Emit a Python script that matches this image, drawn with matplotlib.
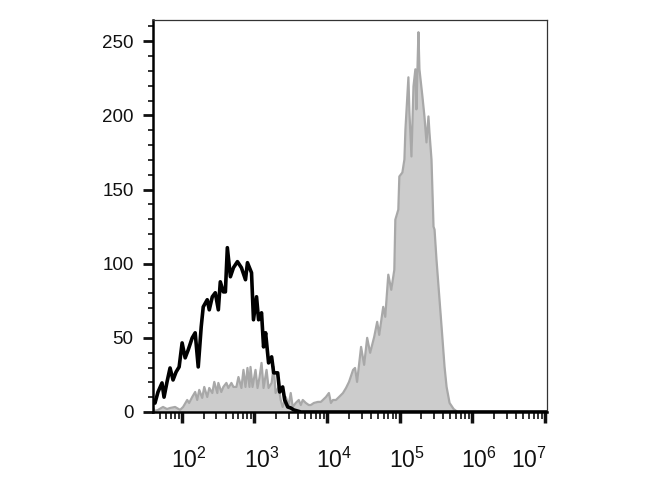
import numpy as np
import matplotlib
matplotlib.use("Agg")
from matplotlib import pyplot as plt
from matplotlib import ticker
from matplotlib.transforms import ScaledTranslation

plt.rcParams['font.family'] = ['Liberation Sans', 'DejaVu Sans']
plt.rcParams['mathtext.fontset'] = 'custom'
plt.rcParams['mathtext.rm'] = 'Liberation Sans'
plt.rcParams['mathtext.it'] = 'Liberation Sans:italic'

# isotype control (black line), x in decades (log10 of intensity)
black_log = [1.603, 1.63, 1.672, 1.727, 1.755, 1.796, 1.838, 1.879, 1.921, 1.963,
             2.004, 2.046, 2.088, 2.143, 2.184, 2.226, 2.267, 2.295, 2.35, 2.378,
             2.42, 2.461, 2.503, 2.53, 2.572, 2.6, 2.627, 2.669, 2.711, 2.766,
             2.821, 2.877, 2.904, 2.96, 2.987, 3.029, 3.057, 3.098, 3.126, 3.154,
             3.195, 3.237, 3.265, 3.32, 3.348, 3.389, 3.417, 3.459, 3.501, 3.542,
             3.64, 7.03]
black_count = [8, 6, 13.5, 19.6, 10, 20.3, 29.7, 21.6, 27, 30.4,
               46.6, 36.5, 41.9, 50, 53.4, 30.4, 57.4, 70.9, 75.7, 68.9,
               77.7, 80.4, 68.9, 87.8, 81, 81, 110.8, 91.2, 97.3, 101.4,
               97.3, 89.2, 100.7, 93.9, 62.2, 77.7, 62.2, 66.9, 43.9, 53.4,
               33.1, 37.2, 26.4, 26.4, 13.5, 16.9, 8.1, 3.4, 2.7, 1.4,
               0, 0]

# stained sample (grey filled histogram)
gray_log = [1.603, 1.63, 1.672, 1.741, 1.796, 1.838, 1.907, 1.976, 2.018, 2.074,
            2.101, 2.143, 2.184, 2.212, 2.24, 2.281, 2.309, 2.35, 2.378, 2.42,
            2.447, 2.489, 2.503, 2.544, 2.572, 2.614, 2.641, 2.683, 2.711, 2.752,
            2.78, 2.821, 2.849, 2.877, 2.904, 2.932, 2.946, 2.974, 3.015, 3.043,
            3.071, 3.098, 3.126, 3.167, 3.195, 3.237, 3.265, 3.292, 3.334, 3.362,
            3.389, 3.431, 3.472, 3.5, 3.528, 3.569, 3.611, 3.639, 3.666, 3.708,
            3.749, 3.777, 3.819, 3.874, 3.915, 3.943, 3.985, 4.026, 4.054, 4.082,
            4.123, 4.165, 4.22, 4.262, 4.303, 4.359, 4.386, 4.414, 4.469, 4.511,
            4.553, 4.594, 4.65, 4.691, 4.719, 4.774, 4.802, 4.844, 4.885, 4.927,
            4.941, 4.982, 4.996, 5.038, 5.066, 5.08, 5.121, 5.135, 5.163, 5.191,
            5.217, 5.231, 5.259, 5.273, 5.314, 5.342, 5.37, 5.397, 5.411, 5.439,
            5.467, 5.481, 5.508, 5.536, 5.578, 5.619, 5.647, 5.688, 5.744, 5.799,
            7.03]
gray_count = [2.7, 0.7, 1.4, 3.4, 2.0, 2.7, 3.4, 1.4, 3.4, 8.1,
              6.1, 10.1, 13.5, 8.1, 14.9, 9.5, 16.9, 10.1, 16.2, 12.8,
              20.3, 12.8, 19.6, 13.5, 16.9, 19.6, 16.2, 19.6, 16.9, 16.9,
              23.6, 16.2, 28.4, 16.9, 29.7, 16.9, 30.4, 16.9, 28.4, 16.2,
              23.6, 33.1, 16.2, 28.4, 16.2, 19.6, 30.4, 12.8, 16.9, 8.1,
              3.4, 10.1, 4.7, 12.8, 3.4, 6.1, 8.1, 4.7, 8.1, 6.1,
              4.7, 4.7, 6.1, 6.8, 6.8, 8.1, 10.1, 12.8, 6.1, 8.1,
              8.1, 10.1, 12.8, 16.2, 20.3, 28.4, 29.7, 20.3, 43.9, 31.8,
              50.0, 39.9, 50.7, 60.8, 52.0, 70.9, 64.2, 92.6, 82.4, 95.9,
              129.7, 136.5, 158.8, 161.5, 170.3, 190.5, 225.7, 202.0, 172.3, 219.6,
              231.1, 204.1, 256.1, 231.1, 212.8, 199.3, 181.8, 199.3, 188.5, 170.3,
              125.0, 123.0, 102.7, 84.5, 57.4, 30.4, 16.9, 6.1, 2.0, 0,
              0]

y_ticks = [0, 50, 100, 150, 200, 250]
x_decades = [2, 3, 4, 5, 6, 7]

fig = plt.figure(figsize=(6.7, 5), dpi=100)
ax = fig.add_axes([153 / 670, 88 / 500, 394 / 670, 391.5 / 500])

gx = 10 ** np.array(gray_log)
bx = 10 ** np.array(black_log)
ax.fill_between(gx, gray_count, 0, color='#cccccc', lw=0)
ax.plot(gx, gray_count, color='#a8a8a8', lw=1.6)
ax.plot(bx, black_count, color='black', lw=2.6)

ax.set_xscale('log')
ax.set_xlim(10 ** 1.603, 10 ** 7.03)
ax.set_ylim(0, 264)

ax.set_yticks(y_ticks)
ax.yaxis.set_minor_locator(ticker.MultipleLocator(10))
ax.set_xticks([10.0 ** d for d in x_decades])
ax.set_xticklabels([r'$\mathregular{10^{%d}}$' % d for d in x_decades])
ax.xaxis.set_minor_locator(ticker.LogLocator(base=10, subs=np.arange(2, 10), numticks=50))
ax.xaxis.set_minor_formatter(ticker.NullFormatter())

ax.tick_params(axis='y', which='major', length=7, width=2, pad=7, labelsize=13.5, colors='#111111')
ax.tick_params(axis='y', which='minor', length=3.5, width=1.2, color='#111111')
ax.tick_params(axis='x', which='major', length=8, width=2.5, pad=18, labelsize=16.5, colors='#111111')
ax.tick_params(axis='x', which='minor', length=5, width=1.2, color='#111111')

for i, lab in enumerate(ax.get_xticklabels()):
    dx = -16 if i == len(x_decades) - 1 else 7
    lab.set_transform(lab.get_transform() + ScaledTranslation(dx / 100, 0, fig.dpi_scale_trans))

for side in ['left', 'bottom']:
    ax.spines[side].set_linewidth(1.8)
for side in ['top', 'right']:
    ax.spines[side].set_linewidth(0.9)
    ax.spines[side].set_color('#333333')

plt.savefig('out.png', dpi=100)
